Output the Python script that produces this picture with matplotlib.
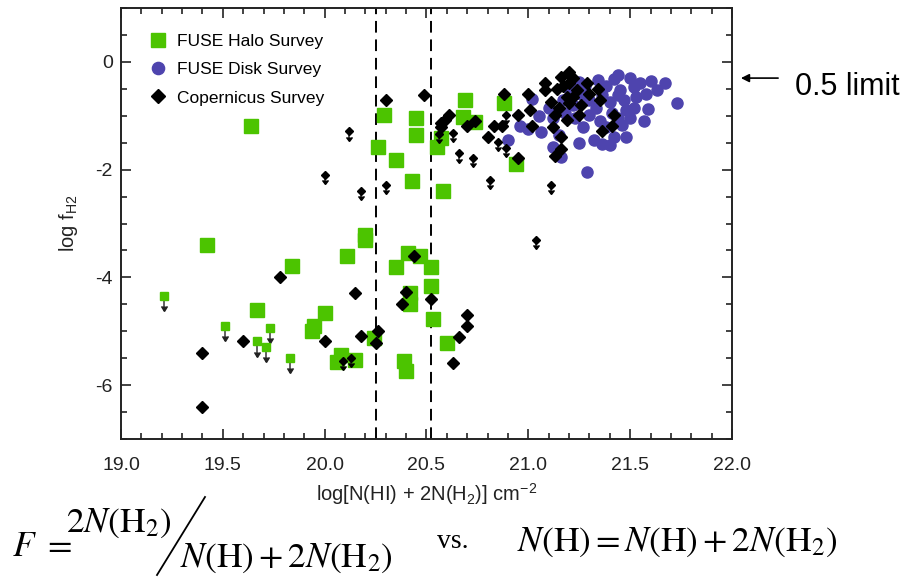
import matplotlib
matplotlib.use("Agg")
import matplotlib.pyplot as plt
from matplotlib.lines import Line2D
from matplotlib.ticker import MultipleLocator
import numpy as np

plt.rcParams['font.family'] = ['Liberation Sans', 'DejaVu Sans']
plt.rcParams['mathtext.fontset'] = 'custom'
plt.rcParams['mathtext.rm'] = 'Liberation Sans'
plt.rcParams['mathtext.it'] = 'Liberation Sans'

GREEN = '#4cc400'
BLUE = '#4e44ae'

# FUSE halo survey: detections
halo_x = [19.64, 20.29, 20.26, 20.35, 20.45, 20.45, 20.43, 20.58, 20.55, 20.57,
          20.69, 20.68, 20.74, 20.88, 20.94,
          19.42, 20.20, 20.20, 20.11, 19.84, 20.41, 20.47, 20.35, 20.52, 20.52,
          20.42, 20.42, 20.53, 19.67, 20.00, 19.95, 19.94, 20.24, 20.60, 20.08,
          20.06, 20.15, 20.39, 20.40]
halo_y = [-1.19, -0.99, -1.58, -1.82, -1.05, -1.36, -2.21, -2.40, -1.58, -1.42,
          -0.70, -1.02, -1.11, -0.76, -1.90,
          -3.40, -3.21, -3.30, -3.61, -3.78, -3.55, -3.61, -3.81, -3.81, -4.16,
          -4.29, -4.49, -4.77, -4.60, -4.66, -4.91, -5.00, -5.13, -5.22, -5.44,
          -5.58, -5.54, -5.56, -5.74]
# FUSE halo survey: upper limits
halo_lim_x = [19.21, 19.51, 19.67, 19.73, 19.71, 19.83]
halo_lim_y = [-4.34, -4.91, -5.19, -4.94, -5.29, -5.50]

# FUSE disk survey
disk_x = [20.90, 20.96, 21.02, 21.06, 21.12, 21.12, 21.16, 21.17, 21.20, 21.25,
          21.29, 21.30, 21.32, 21.34, 21.36, 21.38, 21.42, 21.42, 21.45, 21.47,
          21.48, 21.50, 21.52, 21.53, 21.55, 21.59, 21.57, 21.63, 21.67, 21.73,
          21.22, 21.26, 21.28, 21.30, 21.33, 21.36, 21.38, 21.40, 21.41, 21.44,
          21.46, 21.40, 21.35, 21.27, 21.23, 21.18, 21.10, 21.05, 21.00, 21.15,
          21.25, 21.44, 21.50, 21.58, 21.60, 21.52, 21.44, 21.48]
disk_y = [-1.45, -1.19, -0.68, -1.30, -1.05, -1.58, -1.76, -0.71, -0.50, -0.37,
          -2.04, -0.99, -1.45, -0.34, -1.52, -1.21, -0.31, -1.39, -0.53, -0.71,
          -0.90, -1.05, -0.47, -0.65, -0.40, -0.87, -1.10, -0.53, -0.40, -0.76,
          -0.80, -0.60, -0.45, -0.70, -0.85, -0.62, -0.45, -0.75, -0.95, -0.62,
          -1.18, -1.55, -1.10, -1.20, -1.05, -0.95, -0.85, -1.00, -1.25, -1.35,
          -1.50, -0.25, -0.30, -0.60, -0.35, -0.85, -1.05, -1.40]

# Copernicus survey: detections
cop_x = [20.30, 20.49, 20.88, 20.57, 20.61, 20.57, 20.59, 20.70, 20.74, 20.80,
         20.83, 20.87, 20.95, 20.95, 21.00, 21.01, 21.02, 21.08, 21.08, 21.11,
         21.13, 21.12, 21.14, 21.16, 21.19, 21.16, 21.16, 21.13, 21.20, 21.20,
         21.19, 21.22, 21.20, 21.24, 21.25, 21.29, 21.30, 21.34, 21.35, 21.42,
         21.41, 21.36, 21.17, 21.22, 21.26, 21.15,
         19.78, 20.15, 19.40, 19.40, 19.60, 20.00, 20.18, 20.26, 20.25, 20.44,
         20.40, 20.38, 20.52, 20.70, 20.70, 20.66, 20.63]
cop_y = [-0.70, -0.61, -0.59, -1.14, -0.99, -1.21, -1.07, -1.19, -1.10, -1.39,
         -1.19, -1.19, -0.99, -1.79, -0.59, -0.90, -1.19, -0.40, -0.53, -0.74,
         -0.99, -1.21, -0.50, -0.28, -1.08, -1.40, -1.61, -1.75, -0.19, -0.40,
         -0.65, -0.65, -0.77, -0.53, -0.99, -0.40, -0.59, -0.50, -0.71, -0.99,
         -1.19, -1.28, -0.45, -0.30, -0.80, -0.85,
         -4.00, -4.29, -5.40, -6.40, -5.19, -5.19, -5.08, -4.99, -5.21, -3.60,
         -4.28, -4.49, -4.40, -4.69, -4.90, -5.10, -5.59]
# Copernicus survey: upper limits
cop_lim_x = [20.12, 20.00, 20.18, 20.30, 20.63, 20.66, 20.73, 20.81, 20.85, 20.89,
             20.89, 20.56, 21.11, 21.04, 20.09, 20.13]
cop_lim_y = [-1.29, -2.10, -2.40, -2.29, -1.32, -1.70, -1.79, -2.19, -1.48, -1.59,
             -0.99, -1.33, -2.29, -3.31, -5.55, -5.50]

cuts = [20.25, 20.52]
half_limit = np.log10(0.5)

fig = plt.figure(figsize=(9.09, 5.77), dpi=100)
ax = fig.add_axes([121 / 909, 1 - 439 / 577, 611 / 909, 431 / 577])

# upper limits: marker with a short stem and a downward caret
hx, hy = np.array(halo_lim_x), np.array(halo_lim_y)
ax.vlines(hx, hy - 0.28, hy, colors='#555555', lw=1.3, zorder=2)
ax.plot(hx, hy - 0.28, ls='none', marker=7, ms=5, color='#222222', zorder=2)
ax.plot(hx, hy, ls='none', marker='s', ms=6, color=GREEN, zorder=2)

ax.plot(halo_x, halo_y, ls='none', marker='s', ms=9.5, color=GREEN, zorder=2,
        label='FUSE Halo Survey')
ax.plot(disk_x, disk_y, ls='none', marker='o', ms=8, color=BLUE, zorder=3,
        label='FUSE Disk Survey')

cx, cy = np.array(cop_lim_x), np.array(cop_lim_y)
ax.vlines(cx, cy - 0.17, cy, colors='#333333', lw=1.2, zorder=4)
ax.plot(cx, cy - 0.17, ls='none', marker=7, ms=4, color='black', zorder=4)
ax.plot(cx, cy, ls='none', marker='D', ms=4, color='black', zorder=4)

ax.plot(cop_x, cop_y, ls='none', marker='D', ms=6.5, color='black', zorder=4,
        label='Copernicus Survey')

for c in cuts:
    ax.axvline(c, color='black', lw=1.4, ls=(0, (6, 3.5)), zorder=1)

ax.set_xlim(19.0, 22.0)
ax.set_ylim(-7, 1)
ax.xaxis.set_major_locator(MultipleLocator(0.5))
ax.xaxis.set_minor_locator(MultipleLocator(0.1))
ax.yaxis.set_major_locator(MultipleLocator(2))
ax.yaxis.set_minor_locator(MultipleLocator(0.5))
ax.xaxis.set_major_formatter(plt.FormatStrFormatter('%.1f'))
ax.yaxis.set_major_formatter(plt.FormatStrFormatter('%d'))
ax.tick_params(which='both', direction='in', top=True, right=True,
               width=1.2, colors='#222222', labelcolor='#222222', labelsize=14)
ax.tick_params(which='major', length=7.5)
ax.tick_params(which='minor', length=4.5)
ax.tick_params(axis='x', pad=13)
ax.tick_params(axis='y', pad=6)
for s in ax.spines.values():
    s.set_linewidth(1.4)
    s.set_color('#222222')

ax.set_xlabel(r'log[N(HI) + 2N(H$_2$)] cm$^{-2}$', fontsize=14.5, color='#222222')
ax.set_ylabel(r'log f$_{\rm H2}$', fontsize=14.5, color='#222222')
ax.xaxis.set_label_coords(0.5, -(494 - 439) / 431)
ax.xaxis.label.set_va('center')
ax.yaxis.set_label_coords((68 - 121) / 611, 0.5)
ax.yaxis.label.set_va('center')

ax.legend(loc='upper left', frameon=False, fontsize=12.5, handletextpad=0.45,
          borderaxespad=1.1, labelspacing=0.75, handlelength=1.3,
          markerscale=1.1)

# 0.5 limit marker on the right
ax.annotate('', xy=(22.03, half_limit), xytext=(22.24, half_limit),
            arrowprops=dict(arrowstyle='-|>', color='black', lw=1.2,
                            mutation_scale=12), annotation_clip=False)
ax.text(22.31, half_limit - 0.16, '0.5 limit', fontsize=22, va='center', ha='left')

# definitions under the plot
fs = 25.5
fig.text(12 / 909, 1 - 546 / 577, r'$F\ =$', fontsize=fs, math_fontfamily='stix',
         va='center', ha='left')
fig.text(66 / 909, 1 - 523 / 577, r'$2N(\mathrm{H}_2)$', fontsize=fs,
         math_fontfamily='stix', va='center', ha='left')
fig.text(180 / 909, 1 - 558 / 577, r'$N(\mathrm{H}) + 2N(\mathrm{H}_2)$', fontsize=fs,
         math_fontfamily='stix', va='center', ha='left')
fig.add_artist(Line2D([205 / 909, 157 / 909], [1 - 497 / 577, 1 - 575 / 577],
                      transform=fig.transFigure, color='black', lw=1.3))
fig.text(437 / 909, 1 - 541 / 577, 'vs.', fontsize=20, family='Liberation Serif',
         va='center', ha='left')
fig.text(517 / 909, 1 - 542 / 577,
         r'$N(\mathrm{H}) = N(\mathrm{H}) + 2N(\mathrm{H}_2)$', fontsize=fs,
         math_fontfamily='stix', va='center', ha='left')

fig.savefig('out.png', dpi=100)
